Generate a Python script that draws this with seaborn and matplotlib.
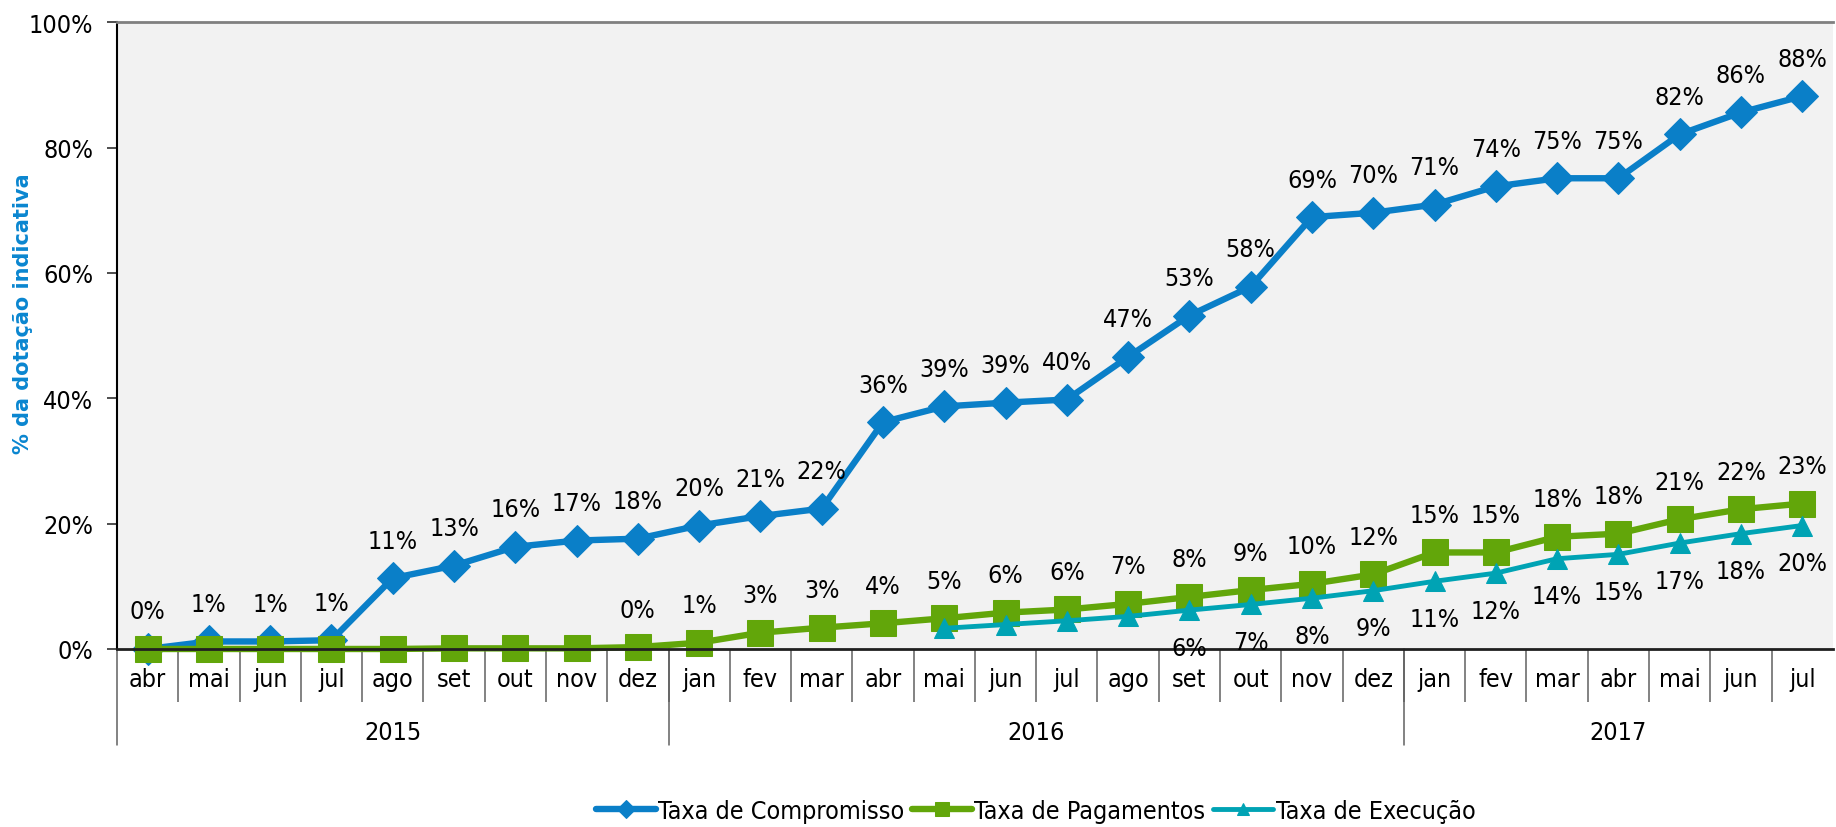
import numpy as np
import pandas as pd
import matplotlib
matplotlib.use('Agg')
import matplotlib.pyplot as plt
import seaborn as sns

# dados (% da dotação indicativa), abr 2015 a jul 2017
meses = ['abr', 'mai', 'jun', 'jul', 'ago', 'set', 'out', 'nov', 'dez',
         'jan', 'fev', 'mar', 'abr', 'mai', 'jun', 'jul', 'ago', 'set', 'out', 'nov', 'dez',
         'jan', 'fev', 'mar', 'abr', 'mai', 'jun', 'jul']
anos = ['2015', '2016', '2017']
meses_por_ano = [9, 12, 7]

compromisso = [0.0, 1.2, 1.2, 1.4, 11.3, 13.3, 16.3, 17.3, 17.6,
               19.7, 21.2, 22.4, 36.2, 38.7, 39.3, 39.8, 46.6, 53.2, 57.8, 68.9, 69.6,
               70.9, 73.8, 75.1, 75.1, 82.1, 85.6, 88.2]
pagamentos = [0.0, 0.0, 0.0, 0.0, 0.0, 0.1, 0.1, 0.1, 0.3,
              1.0, 2.6, 3.4, 4.1, 4.9, 5.8, 6.3, 7.2, 8.3, 9.4, 10.4, 11.9,
              15.4, 15.4, 17.9, 18.4, 20.7, 22.3, 23.2]
execucao = [np.nan] * 13 + [3.3, 3.9, 4.5, 5.2, 6.2, 7.1, 8.1, 9.3,
                            10.8, 12.1, 14.4, 15.1, 16.9, 18.4, 19.7]

# a partir de que mês cada série tem rótulo
rotulo_desde = {'Taxa de Compromisso': 0, 'Taxa de Pagamentos': 8, 'Taxa de Execução': 17}

series = {
    'Taxa de Compromisso': dict(valores=compromisso, cor='#0A7FC8', marcador='D', ms=16, lw=4.6, dy=27),
    'Taxa de Pagamentos': dict(valores=pagamentos, cor='#62A60A', marcador='s', ms=19, lw=4.6, dy=27),
    'Taxa de Execução': dict(valores=execucao, cor='#00A3B4', marcador='^', ms=15, lw=3.5, dy=-27),
}

sns.set_theme(style='white')
plt.rcParams['font.family'] = ['DejaVu Sans']
plt.rcParams['font.stretch'] = 'condensed'
plt.rcParams['text.color'] = 'black'
plt.rcParams['xtick.color'] = 'black'
plt.rcParams['ytick.color'] = 'black'

df = pd.DataFrame({'mes': np.arange(len(meses))})
for nome, s in series.items():
    df[nome] = s['valores']

fig = plt.figure(figsize=(18.36, 8.28), dpi=100)
ax = fig.add_axes([0.0637, 0.215, 0.9346, 0.757])
ax.set_facecolor('#F2F2F2')

for nome, s in series.items():
    sns.lineplot(data=df, x='mes', y=nome, ax=ax, color=s['cor'], marker=s['marcador'],
                 markersize=s['ms'], markeredgecolor=s['cor'], linewidth=s['lw'],
                 label=nome, clip_on=False)
    for i, v in enumerate(s['valores']):
        if i < rotulo_desde[nome] or np.isnan(v):
            continue
        ax.annotate(f'{v:.0f}%', (i, v), xytext=(0, s['dy']), textcoords='offset points',
                    ha='center', va='center', fontsize=18, fontstretch='condensed')

ax.set_xlim(-0.5, len(meses) - 0.5)
ax.set_ylim(0, 100)
ax.set_yticks(range(0, 101, 20))
ax.set_yticklabels([f'{v}%' for v in range(0, 101, 20)], fontsize=18, fontstretch='condensed')
ax.tick_params(axis='y', left=True, length=7, width=1.3, color='#404040', pad=10)

ax.set_xticks(range(len(meses)))
ax.set_xticklabels(meses, fontsize=18, fontstretch='condensed')
ax.tick_params(axis='x', bottom=True, length=0, pad=13)
ax.set_xticks(np.arange(0.5, len(meses) - 1, 1), minor=True)
ax.tick_params(axis='x', which='minor', bottom=True, length=38, width=1.1, color='#606060', direction='out')
ax.set_xlabel('')
ax.set_ylabel('')

ax.spines['right'].set_visible(False)
ax.spines['top'].set_color('#808080')
ax.spines['top'].set_linewidth(2)
ax.spines['left'].set_color('black')
ax.spines['left'].set_linewidth(1.5)
ax.spines['bottom'].set_color('#202020')
ax.spines['bottom'].set_linewidth(2)

# separadores e rótulos dos anos
inicio = 0
trans = ax.get_xaxis_transform()
for ano, n in zip(anos, meses_por_ano):
    ax.plot([inicio - 0.5, inicio - 0.5], [0, -0.153], transform=trans, color='#606060',
            linewidth=1.1, clip_on=False)
    ax.text(inicio + (n - 1) / 2, -0.1435, ano, transform=trans, ha='center', va='baseline',
            fontsize=18, fontstretch='condensed')
    inicio += n

fig.text(0.0125, 1 - 314 / 828, '% da dotação indicativa', rotation=90, ha='center', va='center',
         fontsize=15, fontweight='bold', fontstretch='normal', color='#0A86D0')

handles, labels = ax.get_legend_handles_labels()
ax.get_legend().remove()
fig.legend(handles, labels, loc='center', bbox_to_anchor=(0.564, 0.0193), ncol=3, frameon=False,
           prop={'size': 18, 'stretch': 'condensed'}, handlelength=2.4, handletextpad=0.1,
           columnspacing=0.3, markerscale=0.55)

fig.savefig('out.png', dpi=100)
